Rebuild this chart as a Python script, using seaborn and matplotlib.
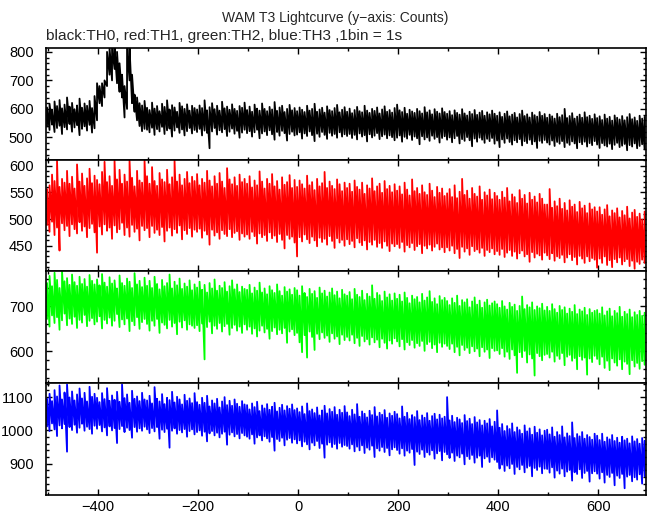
import numpy as np
import pandas as pd
import matplotlib
matplotlib.use("Agg")
import matplotlib.pyplot as plt
from matplotlib.ticker import MultipleLocator, AutoMinorLocator
import seaborn as sns

# light curves read off the picture as the low / high counts inside every 5 s
# slice (the 1 s bins are too dense to read one by one), t = -502 s .. 693 s
t_start, t_step, n_pts = -502, 5, 240

th0_hi = [
    605, 618, 597, 626, 610, 631, 602, 615, 640, 608, 621, 599, 612, 636, 604, 619, 611, 628, 603, 645,
    690, 680, 690, 700, 800, 815, 815, 815, 800, 760, 720, 680, 815, 815, 720, 650, 640, 620, 612, 628,
    604, 596, 622, 601, 610, 592, 618, 607, 630, 598, 613, 605, 590, 621, 609, 600, 616, 594, 611, 603,
    598, 612, 603, 630, 595, 606, 620, 599, 611, 594, 625, 602, 608, 597, 616, 600, 593, 610, 604, 622,
    596, 608, 590, 615, 601, 594, 619, 600, 592, 607, 598, 624, 593, 605, 611, 589, 600, 614, 595, 603,
    592, 605, 597, 589, 611, 594, 600, 618, 590, 598, 604, 587, 609, 596, 592, 603, 614, 588, 597, 606,
    590, 601, 585, 596, 607, 592, 588, 611, 594, 586, 600, 593, 605, 584, 598, 609, 590, 596, 587, 603,
    615, 595, 589, 604, 583, 597, 591, 586, 600, 592, 584, 606, 588, 595, 581, 599, 590, 584, 602, 589,
    583, 592, 578, 595, 586, 580, 599, 584, 577, 590, 582, 596, 579, 587, 593, 576, 588, 581, 594, 583,
    576, 588, 572, 583, 591, 574, 580, 586, 570, 582, 594, 575, 581, 570, 587, 578, 573, 589, 576, 582,
    569, 580, 574, 566, 583, 571, 578, 600, 568, 575, 585, 566, 573, 580, 569, 588, 571, 576, 565, 581,
    568, 574, 561, 580, 566, 572, 559, 577, 569, 563, 575, 560, 571, 582, 564, 570, 558, 576, 566, 572,
]
th0_lo = [
    538, 526, 545, 519, 533, 541, 512, 536, 528, 547, 520, 535, 543, 508, 530, 539, 524, 544, 517, 532,
    560, 620, 610, 640, 680, 720, 700, 740, 690, 660, 640, 570, 600, 700, 620, 590, 560, 540, 522, 530,
    527, 518, 534, 509, 529, 521, 537, 512, 525, 531, 503, 524, 535, 516, 528, 507, 522, 533, 514, 526,
    519, 530, 507, 524, 516, 462, 521, 533, 510, 525, 518, 529, 505, 520, 531, 513, 523, 499, 517, 527,
    515, 522, 503, 518, 527, 497, 514, 521, 508, 525, 511, 492, 519, 506, 523, 515, 489, 512, 520, 507,
    510, 518, 496, 514, 505, 521, 508, 487, 513, 502, 519, 509, 495, 516, 506, 512, 499, 518, 503, 511,
    505, 512, 498, 509, 493, 514, 503, 508, 486, 511, 500, 506, 515, 494, 504, 510, 497, 507, 501, 490,
    499, 507, 485, 502, 496, 509, 491, 503, 497, 476, 504, 493, 500, 488, 506, 495, 501, 482, 498, 504,
    492, 500, 483, 497, 505, 479, 494, 488, 501, 490, 469, 496, 485, 499, 492, 481, 495, 487, 498, 478,
    489, 466, 493, 481, 496, 484, 475, 490, 483, 494, 472, 487, 480, 492, 476, 486, 463, 488, 481, 491,
    482, 475, 489, 470, 484, 478, 487, 466, 481, 474, 486, 479, 462, 483, 476, 485, 468, 480, 473, 487,
    475, 463, 480, 472, 468, 478, 459, 474, 481, 466, 471, 477, 455, 473, 468, 479, 462, 470, 476, 458,
]

th1_hi = [
    556, 563, 583, 571, 609, 560, 575, 568, 590, 566, 579, 557, 602, 570, 585, 562, 576, 594, 567, 581,
    573, 565, 588, 607, 569, 580, 562, 609, 574, 592, 566, 583, 570, 609, 577, 561, 590, 572, 568, 609,
    580, 566, 597, 571, 562, 586, 574, 569, 592, 565, 578, 609, 570, 583, 563, 575, 588, 567, 579, 571,
    584, 563, 575, 568, 590, 572, 561, 580, 566, 586, 570, 558, 595, 574, 565, 578, 562, 583, 569, 575,
    566, 580, 559, 572, 563, 589, 570, 557, 575, 566, 584, 561, 571, 555, 578, 564, 569, 582, 558, 573,
    560, 572, 565, 557, 581, 563, 569, 554, 575, 561, 567, 588, 558, 570, 562, 556, 574, 565, 552, 568,
    558, 566, 551, 572, 560, 555, 568, 547, 563, 557, 576, 552, 561, 566, 549, 571, 556, 562, 550, 565,
    553, 561, 546, 568, 555, 544, 574, 552, 558, 547, 563, 550, 545, 566, 553, 541, 560, 549, 557, 543,
    548, 556, 541, 563, 539, 551, 575, 545, 553, 538, 558, 547, 542, 561, 536, 550, 544, 555, 537, 549,
    543, 536, 551, 540, 558, 533, 546, 541, 530, 554, 538, 545, 529, 549, 536, 542, 531, 547, 538, 527,
    527, 556, 521, 533, 524, 538, 519, 530, 516, 535, 523, 527, 513, 532, 520, 525, 511, 529, 518, 522,
    514, 522, 508, 518, 526, 505, 516, 511, 520, 503, 515, 507, 523, 501, 512, 517, 504, 510, 499, 514,
]
th1_lo = [
    489, 476, 495, 470, 484, 441, 492, 479, 487, 468, 490, 481, 473, 494, 478, 486, 466, 483, 491, 475,
    437, 486, 471, 490, 478, 484, 463, 488, 475, 481, 493, 470, 484, 467, 489, 476, 482, 460, 487, 479,
    483, 466, 487, 474, 480, 470, 485, 458, 478, 484, 469, 481, 474, 488, 462, 479, 472, 483, 467, 480,
    476, 482, 465, 478, 471, 452, 480, 469, 475, 463, 479, 472, 468, 481, 466, 474, 477, 461, 473, 467,
    471, 463, 476, 468, 454, 473, 466, 470, 459, 475, 464, 469, 457, 472, 461, 445, 470, 463, 467, 456,
    430, 466, 458, 471, 462, 455, 467, 460, 449, 465, 457, 463, 452, 468, 459, 446, 464, 456, 461, 450,
    462, 453, 459, 447, 464, 456, 451, 460, 443, 457, 452, 461, 448, 455, 446, 458, 450, 440, 454, 449,
    453, 446, 457, 439, 451, 447, 455, 442, 449, 453, 436, 450, 445, 452, 441, 448, 454, 443, 447, 438,
    447, 441, 450, 436, 444, 427, 448, 439, 445, 433, 449, 440, 443, 437, 446, 431, 442, 438, 445, 434,
    440, 433, 444, 429, 437, 442, 431, 439, 426, 436, 441, 430, 434, 420, 438, 428, 435, 432, 424, 437,
    432, 425, 436, 422, 430, 427, 433, 419, 428, 434, 423, 429, 415, 431, 426, 418, 430, 421, 427, 424,
    409, 426, 418, 430, 414, 423, 410, 425, 419, 428, 415, 421, 425, 412, 422, 407, 420, 416, 424, 418,
]

th2_hi = [
    752, 768, 745, 775, 759, 741, 778, 756, 763, 748, 771, 754, 746, 766, 750, 761, 744, 770, 757, 749,
    760, 747, 772, 753, 744, 765, 751, 758, 740, 769, 752, 746, 762, 755, 741, 774, 749, 757, 743, 764,
    746, 757, 741, 766, 750, 738, 759, 745, 752, 771, 740, 755, 747, 762, 739, 751, 744, 758, 736, 749,
    742, 755, 737, 748, 731, 752, 740, 760, 735, 746, 741, 754, 733, 745, 758, 738, 749, 732, 744, 739,
    737, 748, 729, 742, 735, 753, 731, 740, 727, 745, 736, 730, 749, 734, 724, 743, 733, 738, 726, 741,
    736, 724, 745, 730, 721, 739, 728, 734, 719, 742, 729, 735, 722, 731, 740, 725, 733, 718, 737, 727,
    724, 732, 716, 739, 726, 721, 735, 714, 728, 722, 747, 717, 730, 725, 712, 733, 720, 727, 713, 729,
    717, 726, 711, 731, 719, 707, 724, 716, 721, 709, 728, 713, 720, 734, 710, 718, 705, 723, 714, 719,
    712, 703, 718, 708, 724, 701, 714, 709, 716, 698, 711, 720, 704, 713, 697, 709, 715, 702, 707, 711,
    705, 697, 712, 700, 693, 708, 699, 704, 690, 701, 722, 694, 703, 698, 709, 692, 700, 696, 706, 691,
    699, 690, 705, 694, 686, 701, 692, 698, 684, 695, 688, 703, 683, 693, 689, 697, 681, 694, 686, 690,
    692, 684, 698, 680, 689, 695, 678, 690, 685, 699, 677, 688, 683, 693, 676, 687, 681, 690, 679, 686,
]
th2_lo = [
    672, 655, 680, 663, 676, 648, 669, 684, 658, 673, 661, 677, 652, 670, 664, 681, 656, 668, 674, 660,
    666, 678, 651, 670, 662, 675, 657, 668, 683, 654, 671, 660, 673, 645, 667, 658, 676, 650, 665, 672,
    661, 646, 668, 657, 672, 641, 664, 659, 651, 670, 655, 663, 638, 666, 653, 669, 648, 660, 657, 652,
    658, 645, 662, 582, 654, 666, 640, 657, 650, 663, 644, 656, 661, 637, 652, 659, 646, 655, 641, 660,
    648, 655, 639, 651, 633, 646, 657, 642, 650, 628, 645, 653, 638, 648, 640, 652, 619, 644, 649, 636,
    641, 620, 598, 636, 586, 644, 632, 603, 639, 627, 642, 630, 635, 621, 640, 628, 633, 616, 637, 625,
    632, 624, 637, 618, 630, 612, 634, 622, 627, 615, 631, 620, 626, 609, 628, 619, 606, 624, 617, 629,
    622, 611, 627, 604, 620, 614, 625, 608, 618, 612, 623, 601, 616, 621, 607, 615, 598, 619, 610, 617,
    612, 605, 617, 598, 610, 591, 614, 603, 608, 596, 611, 600, 606, 589, 609, 599, 604, 585, 607, 601,
    602, 594, 607, 588, 599, 583, 604, 591, 552, 598, 587, 601, 575, 593, 584, 546, 596, 589, 580, 592,
    594, 586, 599, 577, 590, 583, 596, 569, 588, 592, 579, 585, 560, 589, 581, 586, 548, 584, 576, 590,
    583, 571, 588, 563, 579, 558, 584, 575, 568, 582, 560, 577, 572, 549, 580, 566, 574, 561, 578, 570,
]

th3_hi = [
    1095, 1110, 1088, 1121, 1102, 1135, 1093, 1114, 1138, 1099, 1117, 1090, 1108, 1126, 1096, 1113, 1087, 1131, 1101, 1110,
    1098, 1085, 1112, 1094, 1127, 1089, 1105, 1092, 1116, 1086, 1138, 1097, 1108, 1083, 1119, 1095, 1102, 1088, 1113, 1093,
    1090, 1104, 1081, 1130, 1095, 1087, 1109, 1079, 1098, 1091, 1116, 1084, 1101, 1093, 1078, 1107, 1089, 1096, 1082, 1112,
    1085, 1077, 1098, 1083, 1104, 1072, 1090, 1081, 1095, 1069, 1087, 1100, 1076, 1089, 1074, 1093, 1080, 1071, 1088, 1078,
    1076, 1063, 1081, 1070, 1086, 1058, 1075, 1066, 1079, 1062, 1071, 1083, 1057, 1068, 1077, 1060, 1073, 1065, 1078, 1061,
    1066, 1055, 1072, 1049, 1081, 1058, 1063, 1052, 1069, 1045, 1060, 1074, 1051, 1064, 1056, 1070, 1047, 1062, 1053, 1073,
    1054, 1043, 1062, 1048, 1079, 1041, 1057, 1050, 1039, 1059, 1046, 1070, 1042, 1053, 1047, 1061, 1038, 1051, 1044, 1056,
    1049, 1036, 1072, 1041, 1053, 1034, 1046, 1040, 1058, 1031, 1045, 1038, 1052, 1029, 1043, 1050, 1033, 1047, 1036, 1041,
    1100, 1030, 1044, 1025, 1038, 1033, 1022, 1046, 1028, 1035, 1019, 1040, 1024, 1031, 1015, 1029, 1021, 1034, 1012, 1026,
    1060, 1008, 1019, 998, 1013, 1004, 1021, 995, 1009, 1001, 990, 1015, 997, 1006, 987, 1011, 993, 1003, 985, 999,
    1002, 988, 1009, 981, 995, 986, 1012, 979, 991, 983, 1024, 977, 989, 982, 995, 975, 986, 980, 972, 990,
    984, 971, 990, 966, 979, 973, 986, 968, 978, 963, 981, 970, 975, 961, 982, 967, 974, 960, 977, 969,
]
th3_lo = [
    1012, 998, 1021, 1003, 983, 1015, 1006, 1019, 936, 1010, 1001, 1017, 993, 1008, 1020, 999, 1011, 1004, 990, 1014,
    1005, 1016, 997, 1009, 985, 1012, 1000, 1007, 962, 1004, 1013, 995, 1008, 1001, 978, 1010, 996, 1006, 999, 1011,
    1003, 992, 1007, 997, 1010, 975, 1002, 995, 1005, 948, 999, 1006, 990, 1001, 994, 1004, 981, 998, 1003, 988,
    995, 1000, 984, 996, 967, 991, 998, 985, 993, 979, 990, 996, 957, 987, 994, 982, 989, 976, 992, 985,
    981, 975, 988, 960, 979, 985, 970, 982, 976, 966, 980, 939, 974, 968, 978, 955, 972, 977, 963, 973,
    961, 970, 952, 966, 958, 943, 963, 955, 968, 947, 960, 918, 957, 964, 950, 959, 945, 962, 951, 956,
    953, 945, 958, 937, 951, 940, 955, 932, 948, 942, 954, 920, 946, 939, 950, 935, 947, 925, 943, 949,
    941, 930, 946, 924, 939, 933, 944, 896, 936, 929, 942, 920, 934, 927, 940, 915, 931, 938, 910, 935,
    928, 917, 933, 908, 924, 919, 930, 898, 922, 914, 926, 903, 918, 924, 890, 916, 921, 905, 919, 912,
    905, 885, 897, 878, 894, 886, 899, 869, 890, 883, 896, 874, 888, 893, 862, 887, 881, 891, 871, 885,
    884, 873, 889, 858, 879, 870, 885, 862, 876, 881, 849, 874, 869, 883, 857, 872, 878, 846, 871, 877,
    870, 855, 874, 843, 866, 860, 872, 835, 864, 857, 869, 826, 861, 866, 847, 859, 852, 868, 840, 862,
]

lows = [th0_lo, th1_lo, th2_lo, th3_lo]
highs = [th0_hi, th1_hi, th2_hi, th3_hi]
colors = ["black", "red", "#00ff00", "blue"]
ylims = [(422, 814), (402, 611), (529, 778), (806, 1142)]
ymajor = [100, 50, 100, 100]

time = t_start + t_step * np.arange(n_pts)

sns.set_style("ticks")
plt.rcParams["font.family"] = ["Liberation Sans", "DejaVu Sans"]
plt.rcParams["font.size"] = 10

fig, axes = plt.subplots(4, 1, figsize=(6.52, 5.15), dpi=100, sharex=True)
fig.subplots_adjust(left=0.0706, right=0.991, top=0.907, bottom=0.039, hspace=0)

for ax, lo, hi, c, yl, ym in zip(axes, lows, highs, colors, ylims, ymajor):
    # trace low -> high inside each slice, then on to the next slice
    df = pd.DataFrame({
        "time": np.repeat(time, 2),
        "counts": np.column_stack([lo, hi]).ravel(),
    })
    sns.lineplot(data=df, x="time", y="counts", ax=ax, color=c, lw=1.3,
                 estimator=None, sort=False)
    ax.set_xlim(-504, 696)
    ax.set_ylim(*yl)
    ax.set_xlabel("")
    ax.set_ylabel("")
    ax.yaxis.set_major_locator(MultipleLocator(ym))
    ax.yaxis.set_minor_locator(AutoMinorLocator(5))
    ax.xaxis.set_major_locator(MultipleLocator(200))
    ax.xaxis.set_minor_locator(MultipleLocator(100))
    ax.tick_params(which="both", direction="in", top=True, right=True,
                   width=1.0, colors="black", labelsize=10.5)
    ax.tick_params(axis="y", pad=9)
    ax.tick_params(which="major", length=4.5)
    ax.tick_params(which="minor", length=2.5)
    for s in ax.spines.values():
        s.set_linewidth(1.2)
        s.set_color("black")

fig.text(0.514, 0.965, "WAM T3 Lightcurve (y\u2212axis: Counts)",
         ha="center", va="center", fontsize=10)
fig.text(0.0706, 0.930, "black:TH0, red:TH1, green:TH2, blue:TH3 ,1bin = 1s",
         ha="left", va="center", fontsize=11.1)

fig.savefig("out.png", dpi=100)
